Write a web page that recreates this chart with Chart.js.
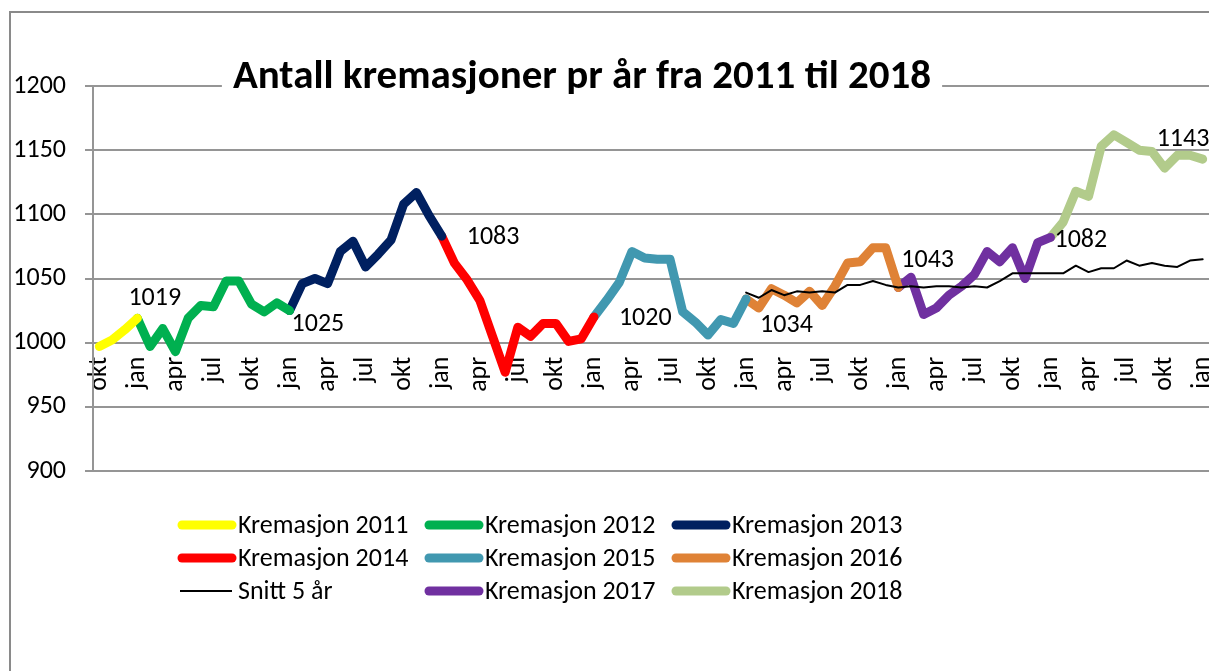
<!DOCTYPE html>
<html>
<head>
<meta charset="utf-8">
<title>Antall kremasjoner pr år fra 2011 til 2018</title>
<script src="https://cdn.jsdelivr.net/npm/chart.js@4.4.1/dist/chart.umd.min.js"></script>
<style>
  html, body { margin: 0; padding: 0; background: #fff; overflow: hidden; }
  #wrap { position: relative; width: 1209px; height: 671px; }
</style>
</head>
<body>
<div id="wrap"><canvas id="chart"></canvas></div>
<script>
// month labels, okt 2011 .. jan 2019
const monthNames = ['jan', 'feb', 'mar', 'apr', 'mai', 'jun', 'jul', 'aug', 'sep', 'okt', 'nov', 'des'];
const labels = [];
for (let y = 2011; y <= 2019; y++) {
    for (let m = 0; m < 12; m++) {
        if ((y === 2011 && m < 9) || (y === 2019 && m > 0)) continue;
        labels.push(monthNames[m]);
    }
}
const shownTicks = ['okt', 'jan', 'apr', 'jul'];
const yTicks = [900, 950, 1000, 1050, 1100, 1150, 1200];

// monthly values per year (each starts at the month given by seriesStart)
const krem2011 = [997, 1002, 1010, 1019];                     // okt 2011 - jan 2012
const krem2012 = [1019, 997, 1011, 993, 1019, 1029, 1028, 1048, 1048, 1030, 1024, 1031, 1025];
const krem2013 = [1025, 1046, 1050, 1046, 1071, 1079, 1059, 1069, 1080, 1108, 1117, 1099, 1083];
const krem2014 = [1083, 1062, 1049, 1033, 1005, 977, 1012, 1005, 1015, 1015, 1001, 1003, 1020];
const krem2015 = [1020, 1033, 1047, 1071, 1066, 1065, 1065, 1024, 1016, 1006, 1018, 1015, 1034];
const krem2016 = [1034, 1027, 1042, 1037, 1031, 1040, 1029, 1044, 1062, 1063, 1074, 1074, 1043];
const krem2017 = [1043, 1051, 1022, 1027, 1037, 1044, 1053, 1071, 1063, 1074, 1050, 1078, 1082];
const krem2018 = [1082, 1094, 1118, 1114, 1153, 1162, 1156, 1150, 1149, 1136, 1146, 1146, 1143];
const snitt5 = [1039, 1035, 1041, 1037, 1040, 1039, 1040, 1039, 1045, 1045, 1048, 1045,
                1043, 1044, 1043, 1044, 1044, 1043, 1044, 1043, 1048, 1054, 1054, 1054,
                1054, 1054, 1060, 1055, 1058, 1058, 1064, 1060, 1062, 1060, 1059, 1064,
                1065];

const seriesNames = ['Kremasjon 2011', 'Kremasjon 2012', 'Kremasjon 2013', 'Kremasjon 2014',
    'Kremasjon 2015', 'Kremasjon 2016', 'Snitt 5 år', 'Kremasjon 2017', 'Kremasjon 2018'];
const seriesValues = [krem2011, krem2012, krem2013, krem2014, krem2015, krem2016, snitt5, krem2017, krem2018];
const seriesStart = [0, 3, 15, 27, 39, 51, 51, 63, 75];
const seriesColors = ['#FFFF00', '#00B050', '#002060', '#FF0000', '#4198B0', '#DF8236', '#000000', '#7030A0', '#B2CB8B'];
const seriesWidths = [9, 9, 9, 9, 9, 9, 2, 9, 9];

// labelled points: [dataset index, point index, dx, dy]
const pointLabels = [
    [0, 3, -9, -20],
    [2, 0, 2, 14],
    [3, 0, 25, 1],
    [4, 0, 25, 1],
    [5, 0, 14, 26],
    [7, 0, 3, -27],
    [8, 0, 4, 3],
    [8, 12, -46, -20]
];

const FONT = 'Carlito, Lato, "Open Sans", sans-serif';
const FONT_SIZE = 26;
const GRID = '#959595';

function padSeries(values, start) {
    const arr = new Array(labels.length).fill(null);
    values.forEach((v, i) => { arr[start + i] = v; });
    return arr;
}

// snitt drawn on top of the coloured years
const datasets = seriesNames.map((name, i) => ({
    label: name,
    data: padSeries(seriesValues[i], seriesStart[i]),
    borderColor: seriesColors[i],
    backgroundColor: seriesColors[i],
    borderWidth: seriesWidths[i],
    borderCapStyle: 'round',
    borderJoinStyle: 'round',
    pointRadius: 0,
    pointHoverRadius: 0,
    tension: 0,
    spanGaps: false,
    order: i === 6 ? 0 : 1
}));

const frameAndTitle = {
    id: 'frameAndTitle',
    beforeDraw(chart) {
        const ctx = chart.ctx;
        ctx.save();
        ctx.fillStyle = '#fff';
        ctx.fillRect(0, 0, chart.width, chart.height);
        ctx.strokeStyle = '#8a8a8a';
        ctx.lineWidth = 2;
        ctx.strokeRect(10, 12, 1400, 900);
        ctx.restore();
    },
    afterDatasetsDraw(chart) {
        const ctx = chart.ctx;
        ctx.save();
        ctx.font = FONT_SIZE + 'px ' + FONT;
        ctx.fillStyle = '#000';
        ctx.textAlign = 'left';
        ctx.textBaseline = 'middle';
        pointLabels.forEach(([di, pi, dx, dy]) => {
            const meta = chart.getDatasetMeta(di);
            const pt = meta.data[seriesStart[di] + pi];
            ctx.fillText(String(seriesValues[di][pi]), pt.x + dx, pt.y + dy);
        });
        ctx.restore();
    },
    afterDraw(chart) {
        const ctx = chart.ctx;
        ctx.save();
        // title sitting on the 1200 gridline
        const title = 'Antall kremasjoner pr år fra 2011 til 2018';
        ctx.font = 'bold 41px ' + FONT;
        const w = ctx.measureText(title).width;
        const cx = 582;
        ctx.fillStyle = '#fff';
        ctx.fillRect(cx - w / 2 - 11, 55, w + 22, 45);
        ctx.fillStyle = '#000';
        ctx.textAlign = 'center';
        ctx.textBaseline = 'alphabetic';
        ctx.fillText(title, cx, 88);

        // legend, 3 columns
        ctx.font = FONT_SIZE + 'px ' + FONT;
        ctx.textBaseline = 'middle';
        ctx.textAlign = 'left';
        chart.data.datasets.forEach((ds, i) => {
            const col = i % 3, row = Math.floor(i / 3);
            const x = 182 + col * 247;
            const y = 525 + row * 33;
            ctx.strokeStyle = ds.borderColor;
            ctx.lineWidth = ds.borderWidth;
            ctx.lineCap = ds.borderWidth > 2 ? 'round' : 'butt';
            ctx.beginPath();
            ctx.moveTo(ds.borderWidth > 2 ? x : x - 2, y);
            ctx.lineTo(x + 50, y);
            ctx.stroke();
            ctx.fillStyle = '#000';
            ctx.fillText(ds.label, x + 56, y + 1);
        });
        ctx.restore();
    }
};

new Chart(document.getElementById('chart'), {
    type: 'line',
    data: { labels: labels, datasets: datasets },
    options: {
        responsive: true,
        maintainAspectRatio: false,
        animation: false,
        events: [],
        layout: { padding: { left: 0, right: 0, top: 86, bottom: 200 } },
        plugins: {
            legend: { display: false },
            title: { display: false },
            tooltip: { enabled: false }
        },
        scales: {
            x: {
                type: 'category',
                offset: true,
                position: { y: 1000 },
                afterFit: (scale) => { scale.paddingLeft = 0; scale.paddingRight = 0; },
                grid: { display: false },
                border: { display: false },
                ticks: {
                    autoSkip: false,
                    maxRotation: 90,
                    minRotation: 90,
                    padding: 6,
                    color: '#000',
                    font: { family: FONT, size: FONT_SIZE },
                    callback: function (value) {
                        const l = this.getLabelForValue(value);
                        return shownTicks.includes(l) ? l : '';
                    }
                }
            },
            y: {
                min: 900,
                max: 1200,
                afterFit: (scale) => { scale.width = 93; },
                afterBuildTicks: (scale) => { scale.ticks = yTicks.map(v => ({ value: v })); },
                grid: { color: GRID, lineWidth: 2, tickLength: 8 },
                border: { display: true, color: GRID, width: 2 },
                ticks: {
                    padding: 19,
                    color: '#000',
                    font: { family: FONT, size: FONT_SIZE },
                    callback: (value) => String(value)
                }
            }
        }
    },
    plugins: [frameAndTitle]
});
</script>
</body>
</html>
